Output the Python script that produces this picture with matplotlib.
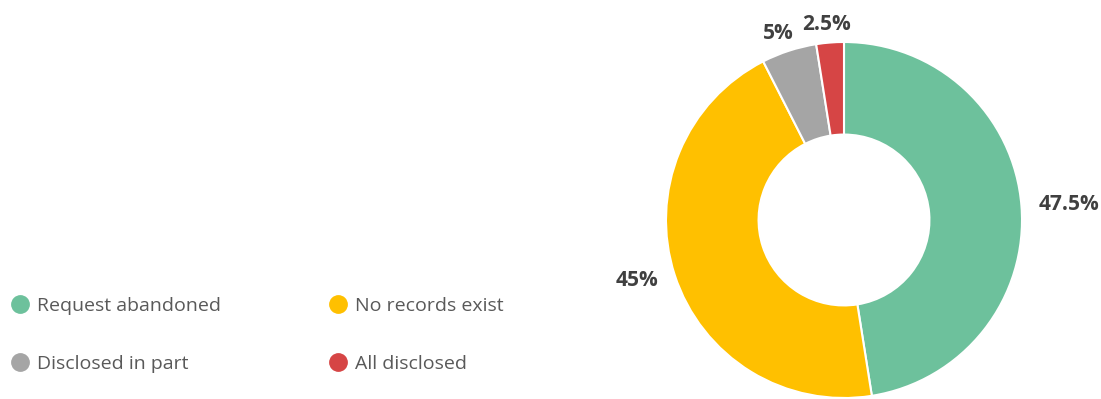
import numpy as np
import matplotlib.pyplot as plt
from matplotlib.lines import Line2D

plt.rcParams['font.family'] = ['Open Sans', 'DejaVu Sans']

categories = ['Request abandoned', 'No records exist', 'Disclosed in part', 'All disclosed']
shares = [47.5, 45, 5, 2.5]
pct_labels = ['47.5%', '45%', '5%', '2.5%']
colors = ['#6DC19C', '#FFC000', '#A5A5A5', '#D64545']

fig = plt.figure(figsize=(11.01, 3.99), dpi=100)
W, H = 1101, 399
cx, cy, R = 844, 399 - 220, 178
ax = fig.add_axes([(cx - R) / W, (cy - R) / H, 2 * R / W, 2 * R / H])

ax.pie(shares, colors=colors, startangle=90, counterclock=False, radius=1.0,
       wedgeprops=dict(width=0.52, edgecolor='white', linewidth=1.5))
ax.set_xlim(-1, 1)
ax.set_ylim(-1, 1)
ax.set_aspect('equal')
ax.axis('off')

# percentage labels just outside each slice
cum = np.cumsum([0] + shares) / sum(shares)
texts = []
for i, lab in enumerate(pct_labels):
    t = np.deg2rad(90 - 360 * (cum[i] + cum[i + 1]) / 2)
    txt = ax.annotate(lab, xy=(1.1 * np.cos(t), 1.1 * np.sin(t)), xytext=(0, 0),
                      textcoords='offset points', ha='center', va='center',
                      fontsize=15, fontweight='bold', color='#404040',
                      annotation_clip=False)
    texts.append((txt, t))

fig.canvas.draw()
r = fig.canvas.get_renderer()
for txt, t in texts:
    bb = txt.get_window_extent(r)
    w = bb.width * 72 / fig.dpi
    txt.set_position((np.cos(t) * w / 2, 0))

order = [0, 2, 1, 3]
handles = [Line2D([], [], linestyle='none', marker='o', markersize=12.5,
                  markerfacecolor=colors[i], markeredgecolor=colors[i]) for i in order]
fig.legend(handles, [categories[i] for i in order], ncol=2, loc='upper left',
           bbox_to_anchor=(-0.002, 0.29), frameon=False, fontsize=14,
           labelcolor='#595959', handlelength=0.9, handletextpad=0.4,
           columnspacing=5.6, labelspacing=2.05, borderaxespad=0.3)

fig.savefig('out.png', dpi=100)
